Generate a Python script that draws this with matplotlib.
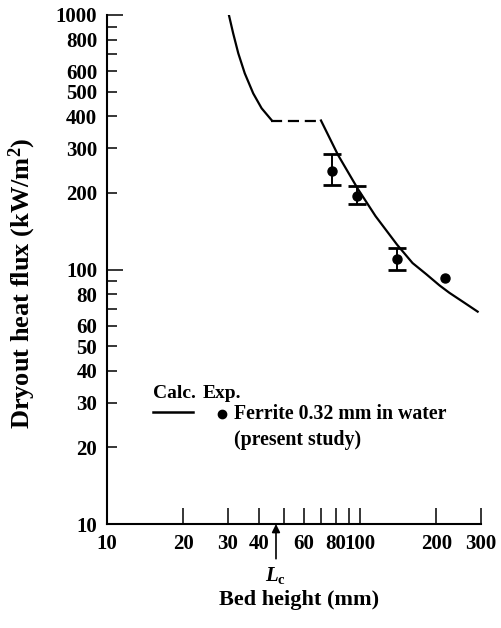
import numpy as np
import matplotlib
matplotlib.use('Agg')
import matplotlib.pyplot as plt
from matplotlib.lines import Line2D

plt.rcParams['font.family'] = ['Liberation Serif', 'DejaVu Serif']
plt.rcParams['font.weight'] = 'bold'
plt.rcParams['mathtext.fontset'] = 'custom'
plt.rcParams['mathtext.rm'] = 'Liberation Serif:bold'
plt.rcParams['mathtext.it'] = 'Liberation Serif:italic:bold'

# calculated curve
calc_upper_x = [30.3, 31.5, 33.0, 35.0, 37.8, 40.8, 44.6]
calc_upper_y = [1000, 847, 707, 590, 492, 430, 387]
calc_dash_x = [44.6, 70.0]
calc_dash_y = [385, 385]
calc_lower_x = [70.0, 81.7, 98.0, 115.0, 140.0, 161.0, 182.0, 206.0, 225.0, 258.0, 291.0]
calc_lower_y = [385, 282, 207, 162, 125, 106, 96, 86.5, 81, 74, 68.3]

# experiment (ferrite 0.32 mm in water)
exp_x = [77.4, 96.9, 139.7, 216.0]
exp_y = [244, 195, 110, 93]
exp_lo = [215, 181, 99.5, None]
exp_hi = [284, 213, 121, None]

L_c = 46.5

xticks = [10, 20, 30, 40, 50, 60, 70, 80, 90, 100, 200, 300]
xlabels = ['10', '20', '30', '40', '', '60', '', '80', '', '100', '200', '300']
ymajor = [10, 100, 1000]
yminor = [20, 30, 40, 50, 60, 70, 80, 90, 200, 300, 400, 500, 600, 700, 800, 900]
yminor_labels = ['20', '30', '40', '50', '60', '', '80', '',
                 '200', '300', '400', '500', '600', '', '800', '']

fig = plt.figure(figsize=(5.02, 6.28), dpi=100)
ax = fig.add_axes([107/502, 1-524/628, 374/502, 509/628])

ax.plot(calc_upper_x, calc_upper_y, color='black', lw=1.6)
ax.plot(calc_dash_x, calc_dash_y, color='black', lw=1.6, dashes=(5, 2.6))
ax.plot(calc_lower_x, calc_lower_y, color='black', lw=1.6)

ex = [x for x, l in zip(exp_x, exp_lo) if l is not None]
ey = [y for y, l in zip(exp_y, exp_lo) if l is not None]
el = [y - l for y, l in zip(exp_y, exp_lo) if l is not None]
eh = [h - y for y, h in zip(exp_y, exp_hi) if h is not None]
ax.errorbar(ex, ey, yerr=[el, eh], fmt='none', ecolor='black', elinewidth=1.4,
            capsize=6.5, capthick=2.0)
ax.plot(exp_x, exp_y, 'o', color='black', ms=6.5)

ax.set_xscale('log')
ax.set_yscale('log')
ax.set_xlim(10, 300)
ax.set_ylim(10, 1000)

for s in ['top', 'right']:
    ax.spines[s].set_visible(False)
for s in ['left', 'bottom']:
    ax.spines[s].set_linewidth(1.5)

ax.set_xticks(xticks, labels=xlabels)
ax.set_xticks([], minor=True)
ax.set_yticks(ymajor, labels=['10', '100', '1000'])
ax.set_yticks(yminor, labels=yminor_labels, minor=True)

ax.tick_params(axis='x', which='major', direction='in', length=11.5, width=1.1,
               pad=7, labelsize=15)
ax.tick_params(axis='y', which='major', direction='in', length=11.5, width=1.1,
               pad=7, labelsize=15)
ax.tick_params(axis='y', which='minor', direction='in', length=7, width=1.1,
               pad=7, labelsize=15)

# L_c arrow
ax.annotate('', xy=(L_c, 10), xytext=(0, -25), textcoords='offset points',
            arrowprops=dict(arrowstyle='-|>', color='black', lw=1.2,
                            mutation_scale=12, shrinkA=0, shrinkB=0))
ax.annotate(r'$L_\mathrm{c}$', xy=(L_c, 10), xytext=(0, -37),
            textcoords='offset points', ha='center', va='center', fontsize=15)

fig.text(299/502, 1-600/628, 'Bed height (mm)', ha='center', va='center',
         fontsize=16, fontweight='bold')
fig.text(22/502, 1-283/628, r'Dryout heat flux (kW/m$^2$)', ha='center',
         va='center', rotation=90, fontsize=19, fontweight='bold')

# legend
ax.text(0.123, 0.257, 'Calc.', transform=ax.transAxes, ha='left', va='center',
        fontsize=14)
ax.text(0.256, 0.257, 'Exp.', transform=ax.transAxes, ha='left', va='center',
        fontsize=14)
ax.add_line(Line2D([0.123, 0.230], [0.220, 0.220], transform=ax.transAxes,
                   color='black', lw=1.8))
ax.add_line(Line2D([0.3075], [0.216], transform=ax.transAxes, marker='o',
                   color='black', ms=6, ls='none'))
ax.text(0.340, 0.216, 'Ferrite 0.32 mm in water', transform=ax.transAxes,
        ha='left', va='center', fontsize=14.3)
ax.text(0.340, 0.165, '(present study)', transform=ax.transAxes,
        ha='left', va='center', fontsize=14.3)

fig.savefig('out.png', dpi=100)
